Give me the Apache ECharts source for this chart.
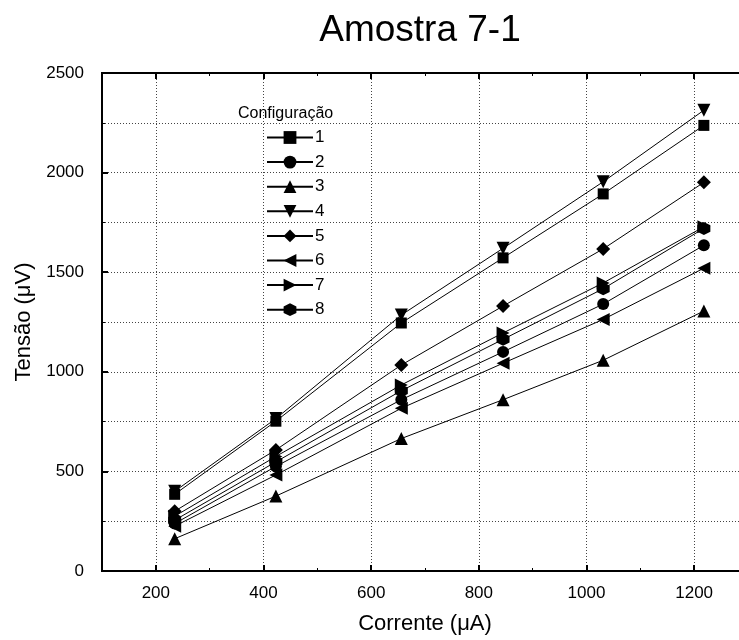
<!DOCTYPE html>
<html lang="pt">

<head>
    <meta charset="UTF-8">
    <title>Amostra 7-1</title>
    <script src="https://cdn.jsdelivr.net/npm/echarts@6/dist/echarts.min.js"></script>
    <style>
        body { margin: 0; background: #fff; }
        #main { width: 739px; height: 640px; }
    </style>
</head>

<body>
    <div id="main"></div>
    <script>
        // corrente (uA)
        var corrente = [235, 423, 656, 845, 1031, 1218];
        // tensao (uV) por configuracao
        var conf1 = [385, 752, 1245, 1572, 1893, 2237];
        var conf2 = [238, 525, 860, 1100, 1340, 1635];
        var conf3 = [162, 376, 665, 860, 1058, 1305];
        var conf4 = [400, 765, 1285, 1620, 1954, 2313];
        var conf5 = [300, 608, 1034, 1330, 1617, 1951];
        var conf6 = [225, 482, 817, 1043, 1263, 1520];
        var conf7 = [275, 575, 934, 1195, 1446, 1728];
        var conf8 = [255, 548, 905, 1163, 1417, 1720];
        var nomes = ['1', '2', '3', '4', '5', '6', '7', '8'];
        // marcas do eixo x
        var xMaiores = [200, 400, 600, 800, 1000, 1200];
        var xMenores = [300, 500, 700, 900, 1100];

        var hexagono = 'path://M0,-1 L0.866,-0.5 L0.866,0.5 L0,1 L-0.866,0.5 L-0.866,-0.5 Z';
        var marcas = [
            { symbol: 'rect', size: 11, rot: 0 },
            { symbol: 'circle', size: 12, rot: 0 },
            { symbol: 'triangle', size: 13, rot: 0 },
            { symbol: 'triangle', size: 13, rot: 180 },
            { symbol: 'diamond', size: 14, rot: 0 },
            { symbol: 'triangle', size: 13, rot: 90 },
            { symbol: 'triangle', size: 13, rot: -90 },
            { symbol: hexagono, size: 13, rot: 0 }
        ];
        var valores = [conf1, conf2, conf3, conf4, conf5, conf6, conf7, conf8];

        var fonte = 'Liberation Sans, Arial, sans-serif';
        var grade = { show: true, lineStyle: { color: '#444', width: 1, type: [1, 2] } };
        var linhaEixo = { show: true, lineStyle: { color: '#000', width: 2 } };
        var semMilhar = function (v) { return String(v); };

        var series = valores.map(function (v, i) {
            return {
                name: nomes[i],
                type: 'line',
                xAxisIndex: 0,
                data: corrente.map(function (x, j) { return [x, v[j]]; }),
                symbol: marcas[i].symbol,
                symbolSize: marcas[i].size,
                symbolRotate: marcas[i].rot,
                showAllSymbol: true,
                lineStyle: { color: '#000', width: 1 },
                itemStyle: { color: '#000' },
                animation: false
            };
        });

        // eixo x auxiliar (so marcas)
        function eixoX(pos, valoresMarca, comp, larg) {
            return {
                type: 'value', position: pos, min: 100, max: 1300, interval: 100,
                axisLine: linhaEixo,
                axisTick: { show: true, inside: true, length: comp, customValues: valoresMarca,
                    lineStyle: { color: '#000', width: larg } },
                axisLabel: { show: false },
                splitLine: { show: false }
            };
        }

        var myChart = echarts.init(document.getElementById('main'));
        var option = {
            backgroundColor: '#fff',
            textStyle: { fontFamily: fonte },
            title: [
                {
                    text: 'Amostra 7-1',
                    left: 415, top: 7,
                    textAlign: 'center',
                    textStyle: { fontFamily: fonte, fontSize: 37, fontWeight: 'normal', color: '#000' }
                },
                {
                    text: 'Configuração',
                    left: 233, top: 101,
                    textStyle: { fontFamily: fonte, fontSize: 16, fontWeight: 'normal', color: '#000' }
                }
            ],
            legend: {
                orient: 'vertical',
                left: 261, top: 124,
                itemWidth: 46, itemHeight: 16, itemGap: 7.6,
                data: nomes,
                textStyle: { fontFamily: fonte, fontSize: 17, color: '#000', lineHeight: 17, padding: [0, 0, 0, -3] },
                selectedMode: false
            },
            grid: {
                left: 102, top: 73, width: 646, height: 498,
                outerBoundsMode: 'none',
                show: true, borderColor: '#000', borderWidth: 2
            },
            xAxis: [
                {
                    type: 'value', min: 100, max: 1300, interval: 100,
                    name: 'Corrente (μA)', nameLocation: 'middle', nameGap: 42,
                    nameTextStyle: { fontFamily: fonte, fontSize: 22, color: '#000' },
                    axisLine: linhaEixo,
                    axisTick: { show: true, inside: true, length: 6, customValues: xMaiores,
                        lineStyle: { color: '#000', width: 2 } },
                    axisLabel: { fontFamily: fonte, fontSize: 17, color: '#000', margin: 14,
                        customValues: xMaiores, formatter: semMilhar },
                    splitLine: grade
                },
                eixoX('bottom', xMenores, 3, 1),
                eixoX('top', xMaiores, 6, 2),
                eixoX('top', xMenores, 3, 1)
            ],
            yAxis: {
                type: 'value', min: 0, max: 2500, interval: 500,
                name: 'Tensão (μV)', nameLocation: 'middle', nameGap: 52,
                nameTextStyle: { fontFamily: fonte, fontSize: 22, color: '#000' },
                axisLine: linhaEixo,
                axisTick: { show: true, inside: true, length: 6, lineStyle: { color: '#000', width: 2 } },
                minorTick: { show: true, splitNumber: 2, length: 3, lineStyle: { color: '#000' } },
                axisLabel: { fontFamily: fonte, fontSize: 17, color: '#000', margin: 18,
                    formatter: semMilhar },
                splitLine: grade,
                minorSplitLine: grade
            },
            series: series
        };
        myChart.setOption(option);
    </script>
</body>

</html>
